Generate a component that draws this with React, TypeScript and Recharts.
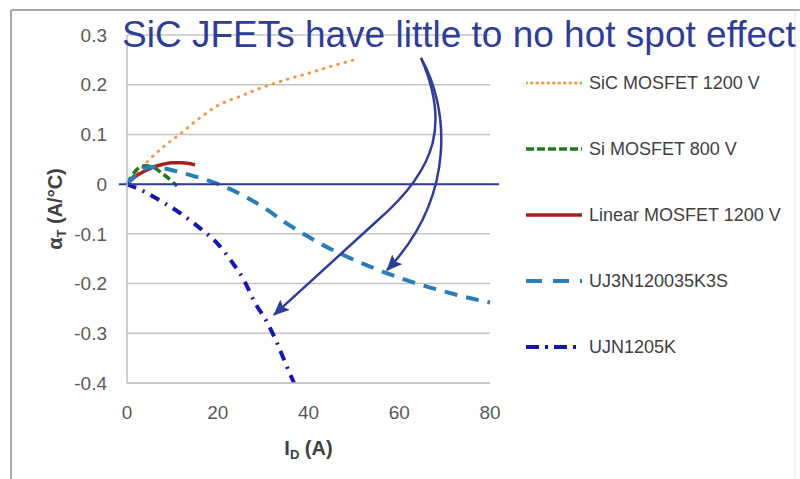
import React from "react";
import { LineChart, Line, XAxis, YAxis, CartesianGrid, ReferenceLine, Legend, Label } from "recharts";

const FONT = '"Liberation Sans", Arial, sans-serif';
const NOTE_BLUE = "#2E3D98";

// Drain current I_D (A) and temperature coefficient alpha_T (A/°C) per device
const sicMosfetI = [0, 2, 5, 8, 12, 16, 20, 25, 30, 35, 40, 45, 50];
const sicMosfetA = [0, 0.02, 0.05, 0.075, 0.103, 0.133, 0.158, 0.177, 0.195, 0.21, 0.223, 0.237, 0.25];

const siMosfetI = [0, 1, 2, 3, 4, 5, 6, 8, 10, 11];
const siMosfetA = [0, 0.016, 0.028, 0.035, 0.037, 0.036, 0.033, 0.02, 0.005, -0.004];

const linearMosfetI = [0, 2, 4, 6, 8, 10, 12, 14, 15];
const linearMosfetA = [0, 0.016, 0.027, 0.035, 0.04, 0.043, 0.043, 0.041, 0.039];

const uj3nI = [0, 2, 4, 6, 8, 10, 12, 14, 18, 22, 26, 30, 35, 40, 45, 50, 55, 60, 65, 70, 75, 80];
const uj3nA = [0, 0.02, 0.032, 0.035, 0.032, 0.028, 0.023, 0.018, 0.007, -0.007, -0.025, -0.046, -0.078, -0.106, -0.131, -0.152, -0.171, -0.188, -0.203, -0.216, -0.228, -0.238];

const ujnI = [0, 4, 8, 12, 16, 20, 23, 26, 28, 31, 33, 35, 36.8];
const ujnA = [0, -0.016, -0.037, -0.06, -0.088, -0.12, -0.155, -0.197, -0.235, -0.28, -0.318, -0.362, -0.4];

const xTicks = [0, 20, 40, 60, 80];
const yTicks = [-0.4, -0.3, -0.2, -0.1, 0, 0.1, 0.2, 0.3];

const title = "SiC JFETs have little to no hot spot effect";
// arrow targets, in data units
const arrowToUj3n = { x: 57.3, y: -0.173 };
const arrowToUjn = { x: 32.4, y: -0.263 };

const toPoints = (xs: number[], ys: number[]) => xs.map((x, i) => ({ x, a: ys[i] }));

type Series = {
  name: string;
  color: string;
  width: number;
  dash?: string;
  cap?: "round" | "butt";
  legendDash?: string;
  data: { x: number; a: number }[];
};

const series: Series[] = [
  { name: "SiC MOSFET 1200 V", color: "#F79646", width: 3, dash: "0.5 7", cap: "round", legendDash: "0.5 5", data: toPoints(sicMosfetI, sicMosfetA) },
  { name: "Si MOSFET 800 V", color: "#1E7A1E", width: 3.5, dash: "8 4", legendDash: "8 3", data: toPoints(siMosfetI, siMosfetA) },
  { name: "Linear MOSFET 1200 V", color: "#A8201C", width: 3.5, data: toPoints(linearMosfetI, linearMosfetA) },
  { name: "UJ3N120035K3S", color: "#2A7DB6", width: 4, dash: "13 9", legendDash: "16 11", data: toPoints(uj3nI, uj3nA) },
  { name: "UJN1205K", color: "#1717B0", width: 4, dash: "10 7 2 7", legendDash: "13 6 3 6", data: toPoints(ujnI, ujnA) },
];

// chart frame
const W = 800;
const H = 479;
const Y_AXIS_W = 60;
const X_AXIS_H = 50;
const margin = { top: 35, right: 310, bottom: 46, left: 67 };
const plot = {
  left: margin.left + Y_AXIS_W,
  top: margin.top,
  width: W - margin.left - Y_AXIS_W - margin.right,
  height: H - margin.top - margin.bottom - X_AXIS_H,
};
const px = (x: number) => plot.left + (x / 80) * plot.width;
const py = (y: number) => plot.top + ((0.3 - y) / 0.7) * plot.height;

function LegendBox() {
  return (
    <div style={{ fontFamily: FONT }}>
      {series.map((s) => (
        <div key={s.name} style={{ display: "flex", alignItems: "center", height: 66 }}>
          <svg width={56} height={12} style={{ marginRight: 7 }}>
            <line
              x1={0}
              x2={56}
              y1={6}
              y2={6}
              stroke={s.color}
              strokeWidth={s.width}
              strokeDasharray={s.legendDash}
              strokeLinecap={s.cap ?? "butt"}
            />
          </svg>
          <span style={{ fontSize: 18, color: "#404040", whiteSpace: "nowrap" }}>{s.name}</span>
        </div>
      ))}
    </div>
  );
}

function XTitle(props: any) {
  const vb = props.viewBox ?? { x: plot.left, y: plot.top + plot.height, width: plot.width };
  return (
    <text x={vb.x + vb.width / 2} y={vb.y + 72} textAnchor="middle" fontFamily={FONT} fontSize={20} fontWeight="bold" fill="#404040">
      I<tspan fontSize={13} dy={4}>D</tspan>
      <tspan dy={-4}> (A)</tspan>
    </text>
  );
}

function YTitle(props: any) {
  const vb = props.viewBox ?? { x: margin.left, y: plot.top, height: plot.height };
  const bx = vb.x - 5;
  const cy = vb.y + vb.height / 2;
  return (
    <text transform={`rotate(-90 ${bx} ${cy})`} x={bx} y={cy} textAnchor="middle" fontFamily={FONT} fontSize={20} fontWeight="bold" fill="#404040">
      α<tspan fontSize={13} dy={4}>T</tspan>
      <tspan dy={-4}> (A/°C)</tspan>
    </text>
  );
}

function Notes() {
  const a1 = { x: px(arrowToUj3n.x), y: py(arrowToUj3n.y) };
  const a2 = { x: px(arrowToUjn.x), y: py(arrowToUjn.y) };
  return (
    <svg width={W} height={H} style={{ position: "absolute", left: 0, top: 0, pointerEvents: "none" }}>
      <defs>
        <marker id="head" markerUnits="userSpaceOnUse" markerWidth={16} markerHeight={14} refX={15} refY={7} orient="auto">
          <path d="M0,0 L16,7 L0,14 L3,7 z" fill={NOTE_BLUE} />
        </marker>
      </defs>
      {/* outer frame */}
      <line x1={11} y1={10} x2={W} y2={10} stroke="#A9A9A9" strokeWidth={2} />
      <line x1={11} y1={10} x2={11} y2={H} stroke="#A9A9A9" strokeWidth={2} />
      <line x1={795} y1={11} x2={795} y2={H} stroke="#EEEEEE" strokeWidth={1.5} />
      <text x={122} y={47} fontFamily={FONT} fontSize={37} fill={NOTE_BLUE}>
        {title}
      </text>
      <path d={`M421,58 C448,105 458,195 ${a1.x},${a1.y}`} fill="none" stroke={NOTE_BLUE} strokeWidth={2.5} markerEnd="url(#head)" />
      <path d={`M421,58 C449,122 438,168 378,220 L${a2.x},${a2.y}`} fill="none" stroke={NOTE_BLUE} strokeWidth={2.5} markerEnd="url(#head)" />
    </svg>
  );
}

export default function App() {
  return (
    <div style={{ position: "absolute", left: 0, top: 0, width: W, height: H, background: "#fff", fontFamily: FONT }}>
      <LineChart width={W} height={H} margin={margin}>
        <CartesianGrid vertical={false} stroke="#C4C4C4" strokeWidth={1.5} />
        <XAxis
          type="number"
          dataKey="x"
          domain={[0, 80]}
          ticks={xTicks}
          height={X_AXIS_H}
          tickLine={false}
          tickSize={0}
          tickMargin={23}
          axisLine={{ stroke: "#C4C4C4", strokeWidth: 1.5 }}
          tick={{ fontFamily: FONT, fontSize: 19, fill: "#595959" }}
        >
          <Label content={<XTitle />} />
        </XAxis>
        <YAxis
          type="number"
          domain={[-0.4, 0.3]}
          ticks={yTicks}
          width={Y_AXIS_W}
          allowDataOverflow
          tickLine={false}
          tickSize={0}
          tickMargin={20}
          axisLine={{ stroke: "#BFBFBF", strokeWidth: 1.5 }}
          tick={{ fontFamily: FONT, fontSize: 19, fill: "#595959" }}
          tickFormatter={(v: number) => String(v)}
        >
          <Label content={<YTitle />} />
        </YAxis>
        {series.map((s) => (
          <Line
            key={s.name}
            name={s.name}
            data={s.data}
            dataKey="a"
            type="monotone"
            stroke={s.color}
            strokeWidth={s.width}
            strokeDasharray={s.dash}
            strokeLinecap={s.cap ?? "butt"}
            dot={false}
            activeDot={false}
            isAnimationActive={false}
          />
        ))}
        <ReferenceLine
          segment={[
            { x: -1.8, y: 0 },
            { x: 82, y: 0 },
          ]}
          ifOverflow="visible"
          stroke={NOTE_BLUE}
          strokeWidth={2}
        />
        <Legend
          layout="horizontal"
          verticalAlign="middle"
          align="center"
          wrapperStyle={{ left: 526, top: 50, width: 274 }}
          content={() => <LegendBox />}
        />
      </LineChart>
      <Notes />
    </div>
  );
}
